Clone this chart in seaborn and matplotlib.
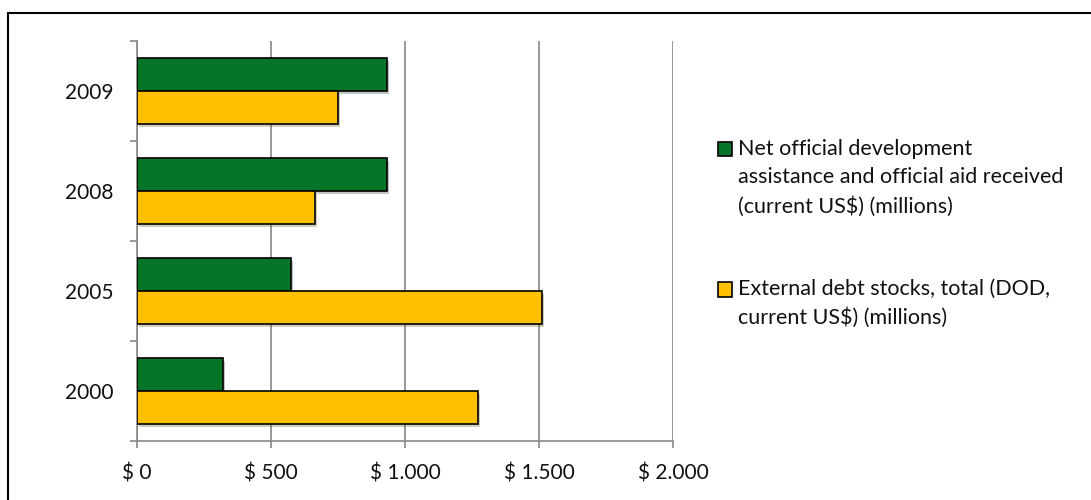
import matplotlib
matplotlib.use("Agg")
import matplotlib.pyplot as plt
import matplotlib.patheffects as pe
from matplotlib.lines import Line2D
from matplotlib.patches import Patch, Rectangle
from matplotlib.legend_handler import HandlerPatch
from matplotlib.ticker import FuncFormatter, FixedLocator
import seaborn as sns
import pandas as pd

# ---- data ----
years = ["2009", "2008", "2005", "2000"]
oda_values = [934, 934, 576, 320]
debt_values = [749, 663, 1510, 1271]
series_names = [
    "Net official development\nassistance and official aid received\n(current US$) (millions)",
    "External debt stocks, total (DOD,\ncurrent US$) (millions)",
]
series_colors = ["#077527", "#FFC000"]
x_ticks = [0, 500, 1000, 1500, 2000]

df = pd.DataFrame({
    "year": years * 2,
    "value": oda_values + debt_values,
    "series": [series_names[0]] * len(years) + [series_names[1]] * len(years),
})

sns.set_theme(style="white")
plt.rcParams["font.family"] = ["Lato", "DejaVu Sans"]

fig = plt.figure(figsize=(10.91, 5.0), dpi=100)
ax = fig.add_axes([137 / 1091, 1 - 441 / 500, (673 - 137) / 1091, 400 / 500])

sns.barplot(data=df, y="year", x="value", hue="series", order=years,
            hue_order=series_names, palette=series_colors, orient="h",
            width=0.66, gap=0, edgecolor="black", linewidth=1.2, saturation=1,
            legend=False, ax=ax, zorder=3)

for p in ax.patches:
    p.set_path_effects([pe.SimplePatchShadow(offset=(1.5, -2), alpha=0.25), pe.Normal()])

ax.set_xlim(0, 2000)
ax.set_ylim(3.5, -0.5)
ax.xaxis.set_major_locator(FixedLocator(x_ticks))
ax.xaxis.set_major_formatter(FuncFormatter(lambda v, pos: "$ " + f"{v:,.0f}".replace(",", ".")))
ax.grid(axis="x", color="#888888", linewidth=1.2, zorder=0)
ax.grid(axis="y", visible=False)
ax.set_axisbelow(True)

ax.set_yticks([-0.5, 0.5, 1.5, 2.5, 3.5], minor=True)
ax.tick_params(axis="y", which="minor", length=5, width=1.2, color="#888888", direction="out", left=True)
ax.tick_params(axis="y", which="major", length=0, pad=17, labelsize=15, labelcolor="#111111")
ax.tick_params(axis="x", which="major", length=5, width=1.2, color="#888888", direction="out",
               bottom=True, pad=11, labelsize=15, labelcolor="#111111")
ax.set_xlabel("")
ax.set_ylabel("")

for s in ["top", "right"]:
    ax.spines[s].set_visible(False)
for s in ["left", "bottom"]:
    ax.spines[s].set_color("#888888")
    ax.spines[s].set_linewidth(1.2)


class TopAlignedHandler(HandlerPatch):
    """Places the legend square next to the first line of a multi-line label."""
    def __init__(self, shift, **kw):
        super().__init__(**kw)
        self.shift = shift

    def create_artists(self, legend, orig_handle, xdescent, ydescent, width, height, fontsize, trans):
        r = Rectangle((-xdescent, -ydescent + self.shift), width, height)
        self.update_prop(r, orig_handle, legend)
        r.set_transform(trans)
        return [r]


line_pitch_pt = 29 * 72 / 100
handles = [Patch(facecolor=c, edgecolor="black", linewidth=1.2) for c in series_colors]
hmap = {h: TopAlignedHandler((lab.count("\n")) * line_pitch_pt / 2)
        for h, lab in zip(handles, series_names)}
leg = fig.legend(handles, series_names, loc="upper left", bbox_to_anchor=(718 / 1091, 1 - 139 / 500),
                 frameon=False, fontsize=15.5, handlelength=0.65, handleheight=0.65,
                 handletextpad=0.27, labelspacing=2.9, borderaxespad=0, borderpad=0,
                 handler_map=hmap)
for t in leg.get_texts():
    t.set_linespacing(1.52)
    t.set_color("#111111")

# outer border (top and left visible, rest cropped)
fig.add_artist(Line2D([8 / 1091, 1.0], [1 - 13 / 500, 1 - 13 / 500], color="black", linewidth=1.5,
                      transform=fig.transFigure))
fig.add_artist(Line2D([8 / 1091, 8 / 1091], [0.0, 1 - 13 / 500], color="black", linewidth=1.5,
                      transform=fig.transFigure))

fig.savefig("out.png", dpi=100, facecolor="white")
